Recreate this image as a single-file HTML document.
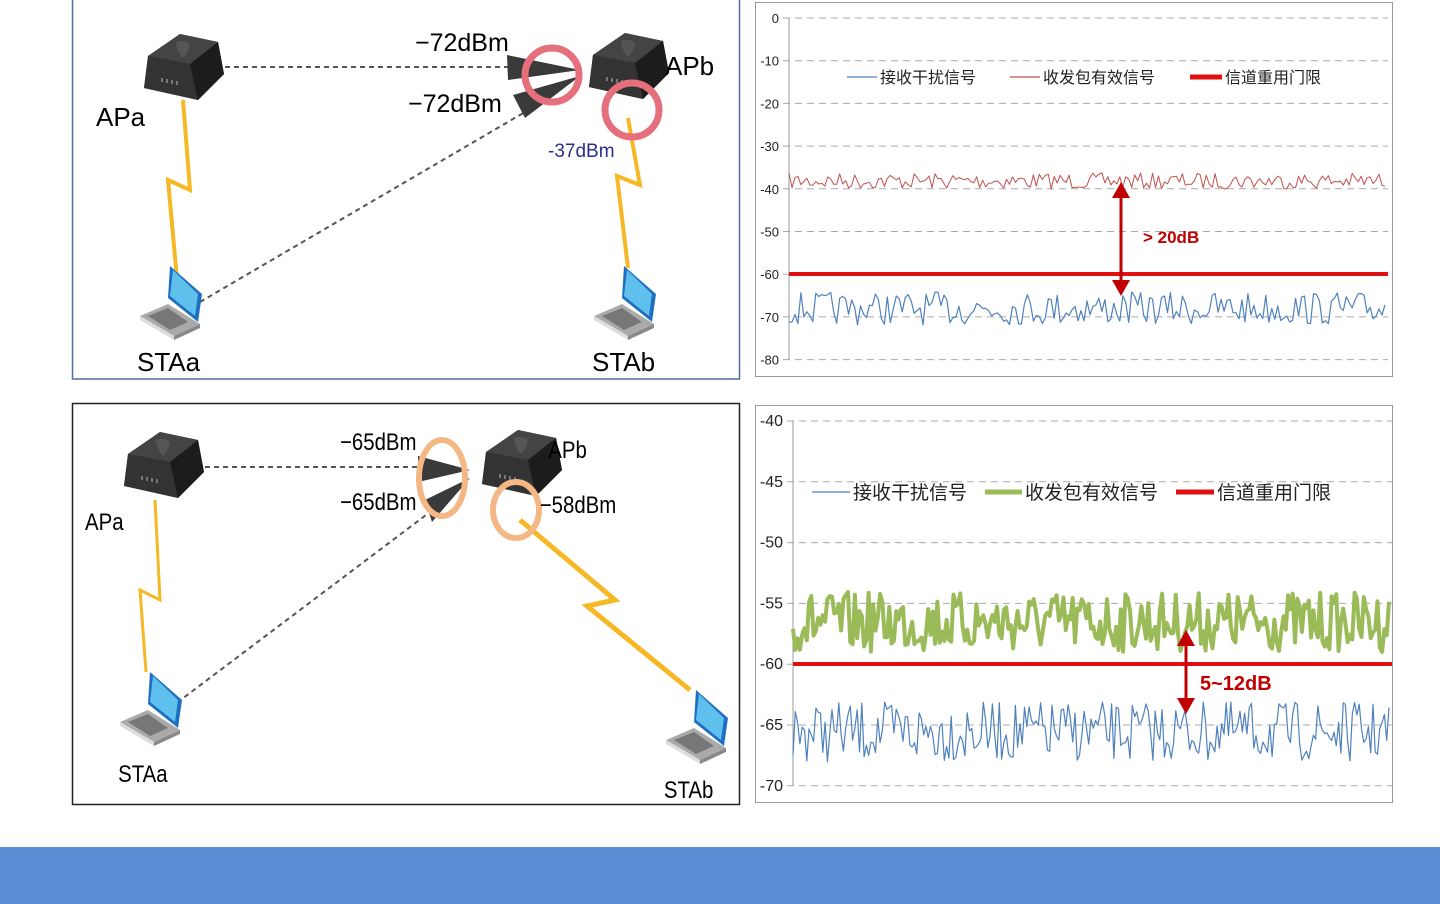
<!DOCTYPE html>
<html><head><meta charset="utf-8"><style>
html,body{margin:0;padding:0;background:#fff;width:1440px;height:904px;overflow:hidden}
svg{display:block}
text{font-family:"Liberation Sans","Noto Sans CJK SC",sans-serif}
</style></head><body>
<svg id="s" width="1440" height="904" viewBox="0 0 1440 904" xmlns="http://www.w3.org/2000/svg">
<defs>
<g id="router">
 <path d="M8,22 L40,0 L78,8 L84,40 L58,66 L4,54 Z" fill="#2a2a2a"/>
 <path d="M8,22 L40,0 L78,8 L50,30 Z" fill="#444"/>
 <path d="M4,54 L8,22 L50,30 L58,66 Z" fill="#333"/>
 <path d="M50,30 L78,8 L84,40 L58,66 Z" fill="#1c1c1c"/>
 <path d="M36,8 q8,-3 14,2 q-2,10 -7,14 q-6,-6 -7,-16z" fill="#555"/>
 <g stroke="#bbb" stroke-width="1"><line x1="22" y1="44" x2="22" y2="48"/><line x1="27" y1="45" x2="27" y2="49"/><line x1="32" y1="46" x2="32" y2="50"/><line x1="37" y1="47" x2="37" y2="51"/></g>
</g>
<g id="laptop">
 <path d="M30,0 L62,28 L58,56 L28,32 Z" fill="#1f6fc0"/>
 <path d="M33,4 L58,28 L55,50 L30,30 Z" fill="#5fc0ee"/>
 <path d="M0,50 L28,38 L60,58 L34,70 Z" fill="#aaa"/>
 <path d="M0,50 L34,70 L34,74 L0,54 Z" fill="#ddd"/>
 <path d="M34,70 L60,58 L60,62 L34,74 Z" fill="#888"/>
 <path d="M8,50 L28,42 L48,56 L30,64 Z" fill="#777"/>
</g>
</defs>

<rect x="72.5" y="-1" width="667" height="380" fill="#fff" stroke="#4f6f9f" stroke-width="1.5"/>
<g stroke="#555" stroke-width="2" stroke-dasharray="5,4" fill="none">
 <line x1="225" y1="67" x2="512" y2="67"/>
 <line x1="200" y1="302" x2="525" y2="112"/>
</g>
<polyline points="183,100 190,190 168,180 178,290" fill="none" stroke="#f6b824" stroke-width="4"/>
<polyline points="628,118 640,185 617,176 628,268" fill="none" stroke="#f6b824" stroke-width="4"/>
<use href="#router" x="140" y="34"/>
<use href="#router" x="585" y="33"/>
<path d="M507,55 L580,70 L508,80 Z" fill="#3a3a3a"/>
<path d="M513,95 L580,76 L525,118 Z" fill="#3a3a3a"/>
<circle cx="552" cy="75" r="27" fill="none" stroke="#e5707c" stroke-width="7"/>
<circle cx="632" cy="110" r="27" fill="none" stroke="#e5707c" stroke-width="7"/>
<use href="#laptop" x="140" y="266"/>
<use href="#laptop" x="594" y="266"/>
<text x="96" y="126" font-size="26">APa</text>
<text x="665" y="75" font-size="26">APb</text>
<text x="415" y="51" font-size="25">−72dBm</text>
<text x="408" y="112" font-size="25">−72dBm</text>
<text x="548" y="157" font-size="19" fill="#2d2d8a">-37dBm</text>
<text x="137" y="371" font-size="26">STAa</text>
<text x="592" y="371" font-size="26">STAb</text>

<rect x="72.5" y="403.5" width="667" height="401" fill="#fff" stroke="#222" stroke-width="1.5"/>
<g stroke="#555" stroke-width="2" stroke-dasharray="5,4" fill="none">
 <line x1="187" y1="467" x2="420" y2="467"/>
 <line x1="170" y1="708" x2="430" y2="512"/>
</g>
<polyline points="155,500 160,600 140,590 146,672" fill="none" stroke="#f6b824" stroke-width="3"/>
<polyline points="520,520 615,600 587,606 690,690" fill="none" stroke="#f6b824" stroke-width="5"/>
<use href="#router" x="120" y="432"/>
<use href="#router" x="478" y="430"/>
<path d="M418,456 L470,470 L418,482 Z" fill="#3a3a3a"/>
<path d="M425,500 L470,478 L432,522 Z" fill="#3a3a3a"/>
<ellipse cx="442" cy="478" rx="23" ry="38" fill="none" stroke="#f4b887" stroke-width="6"/>
<ellipse cx="516" cy="510" rx="23" ry="28" fill="none" stroke="#f4b887" stroke-width="6"/>
<use href="#laptop" x="120" y="672"/>
<use href="#laptop" x="666" y="690"/>
<g font-size="24" transform="scale(0.85,1)">
 <text x="100" y="530">APa</text>
 <text x="645" y="458">APb</text>
 <text x="400" y="450">−65dBm</text>
 <text x="400" y="510">−65dBm</text>
 <text x="635" y="513">−58dBm</text>
 <text x="139" y="782">STAa</text>
 <text x="781" y="798">STAb</text>
</g>

<rect x="755.5" y="2.5" width="637" height="374" fill="#fff" stroke="#999"/>
<g id="g1"></g>
<rect x="755.5" y="405.5" width="637" height="397" fill="#fff" stroke="#999"/>
<g id="g2"></g>

<rect x="0" y="847" width="1440" height="57" fill="#5a8fd6"/>
</svg>
<script>
var NS="http://www.w3.org/2000/svg";
function el(p,t,a,txt){var e=document.createElementNS(NS,t);for(var k in a)e.setAttribute(k,a[k]);if(txt!=null)e.textContent=txt;p.appendChild(e);return e;}
var seed=7;function rnd(){seed=(seed*16807)%2147483647;return seed/2147483647;}
function chart(g,o){
 var ax=o.ax,r=o.r;
 for(var i=0;i<o.ticks.length;i++){var y=o.y0+i*o.dy;
  el(g,"line",{x1:ax-6,y1:y,x2:r,y2:y,stroke:"#aaa","stroke-dasharray":"7,5","stroke-width":1});
  el(g,"text",{x:ax-10,y:y+5,"font-size":o.fs,"text-anchor":"end",fill:"#222"},o.ticks[i]);}
 el(g,"line",{x1:ax,y1:o.y0,x2:ax,y2:o.y0+(o.ticks.length-1)*o.dy,stroke:"#999"});
 o.series.forEach(function(s){var pts=[],n=s.n;for(var i=0;i<=n;i++){var x=ax+(r-ax-3)*i/n;var y=s.lo+(s.hi-s.lo)*rnd();pts.push(x.toFixed(1)+","+y.toFixed(1));}
  el(g,"polyline",{points:pts.join(" "),fill:"none",stroke:s.c,"stroke-width":s.w,"stroke-linejoin":"round"});});
 el(g,"line",{x1:ax,y1:o.th,x2:r,y2:o.th,stroke:"#e01010","stroke-width":4});
 var a=o.arrow;
 el(g,"line",{x1:a.x,y1:a.y1+12,x2:a.x,y2:a.y2-12,stroke:"#c00000","stroke-width":3});
 el(g,"path",{d:"M"+(a.x-9)+","+(a.y1+16)+" L"+a.x+","+a.y1+" L"+(a.x+9)+","+(a.y1+16)+"Z",fill:"#c00000"});
 el(g,"path",{d:"M"+(a.x-9)+","+(a.y2-16)+" L"+a.x+","+a.y2+" L"+(a.x+9)+","+(a.y2-16)+"Z",fill:"#c00000"});
 el(g,"text",{x:a.tx,y:a.ty,"font-size":a.fs,"font-weight":"bold",fill:"#c00000"},a.t);
 o.leg.forEach(function(l){el(g,"line",{x1:l.x1,y1:o.ly,x2:l.x2,y2:o.ly,stroke:l.c,"stroke-width":l.w});
  el(g,"text",{x:l.x2+3,y:o.ly+o.lfs*0.38,"font-size":o.lfs,fill:"#222"},l.t);});
}
chart(document.getElementById("g1"),{ax:789,r:1388,y0:18,dy:42.7,fs:13,ticks:["0","-10","-20","-30","-40","-50","-60","-70","-80"],
 series:[{n:200,lo:173,hi:189,c:"#c0504d",w:1},{n:200,lo:292,hi:325,c:"#4f81bd",w:1.2}],th:274,
 arrow:{x:1121,y1:182,y2:296,tx:1143,ty:243,fs:17,t:"> 20dB"},
 ly:77,lfs:16,leg:[{x1:847,x2:877,c:"#4f81bd",w:1.2,t:"接收干扰信号"},{x1:1010,x2:1040,c:"#c0504d",w:1.2,t:"收发包有效信号"},{x1:1190,x2:1222,c:"#e01010",w:5,t:"信道重用门限"}]});
chart(document.getElementById("g2"),{ax:793,r:1392,y0:421,dy:60.8,fs:16,ticks:["-40","-45","-50","-55","-60","-65","-70"],
 series:[{n:260,lo:592,hi:652,c:"#9bbb59",w:4},{n:260,lo:702,hi:762,c:"#4f81bd",w:1.2}],th:664,
 arrow:{x:1186,y1:630,y2:714,tx:1200,ty:690,fs:20,t:"5~12dB"},
 ly:492,lfs:19,leg:[{x1:812,x2:850,c:"#4f81bd",w:1.2,t:"接收干扰信号"},{x1:985,x2:1022,c:"#9bbb59",w:5,t:"收发包有效信号"},{x1:1176,x2:1214,c:"#e01010",w:5,t:"信道重用门限"}]});
</script>
</body></html>
